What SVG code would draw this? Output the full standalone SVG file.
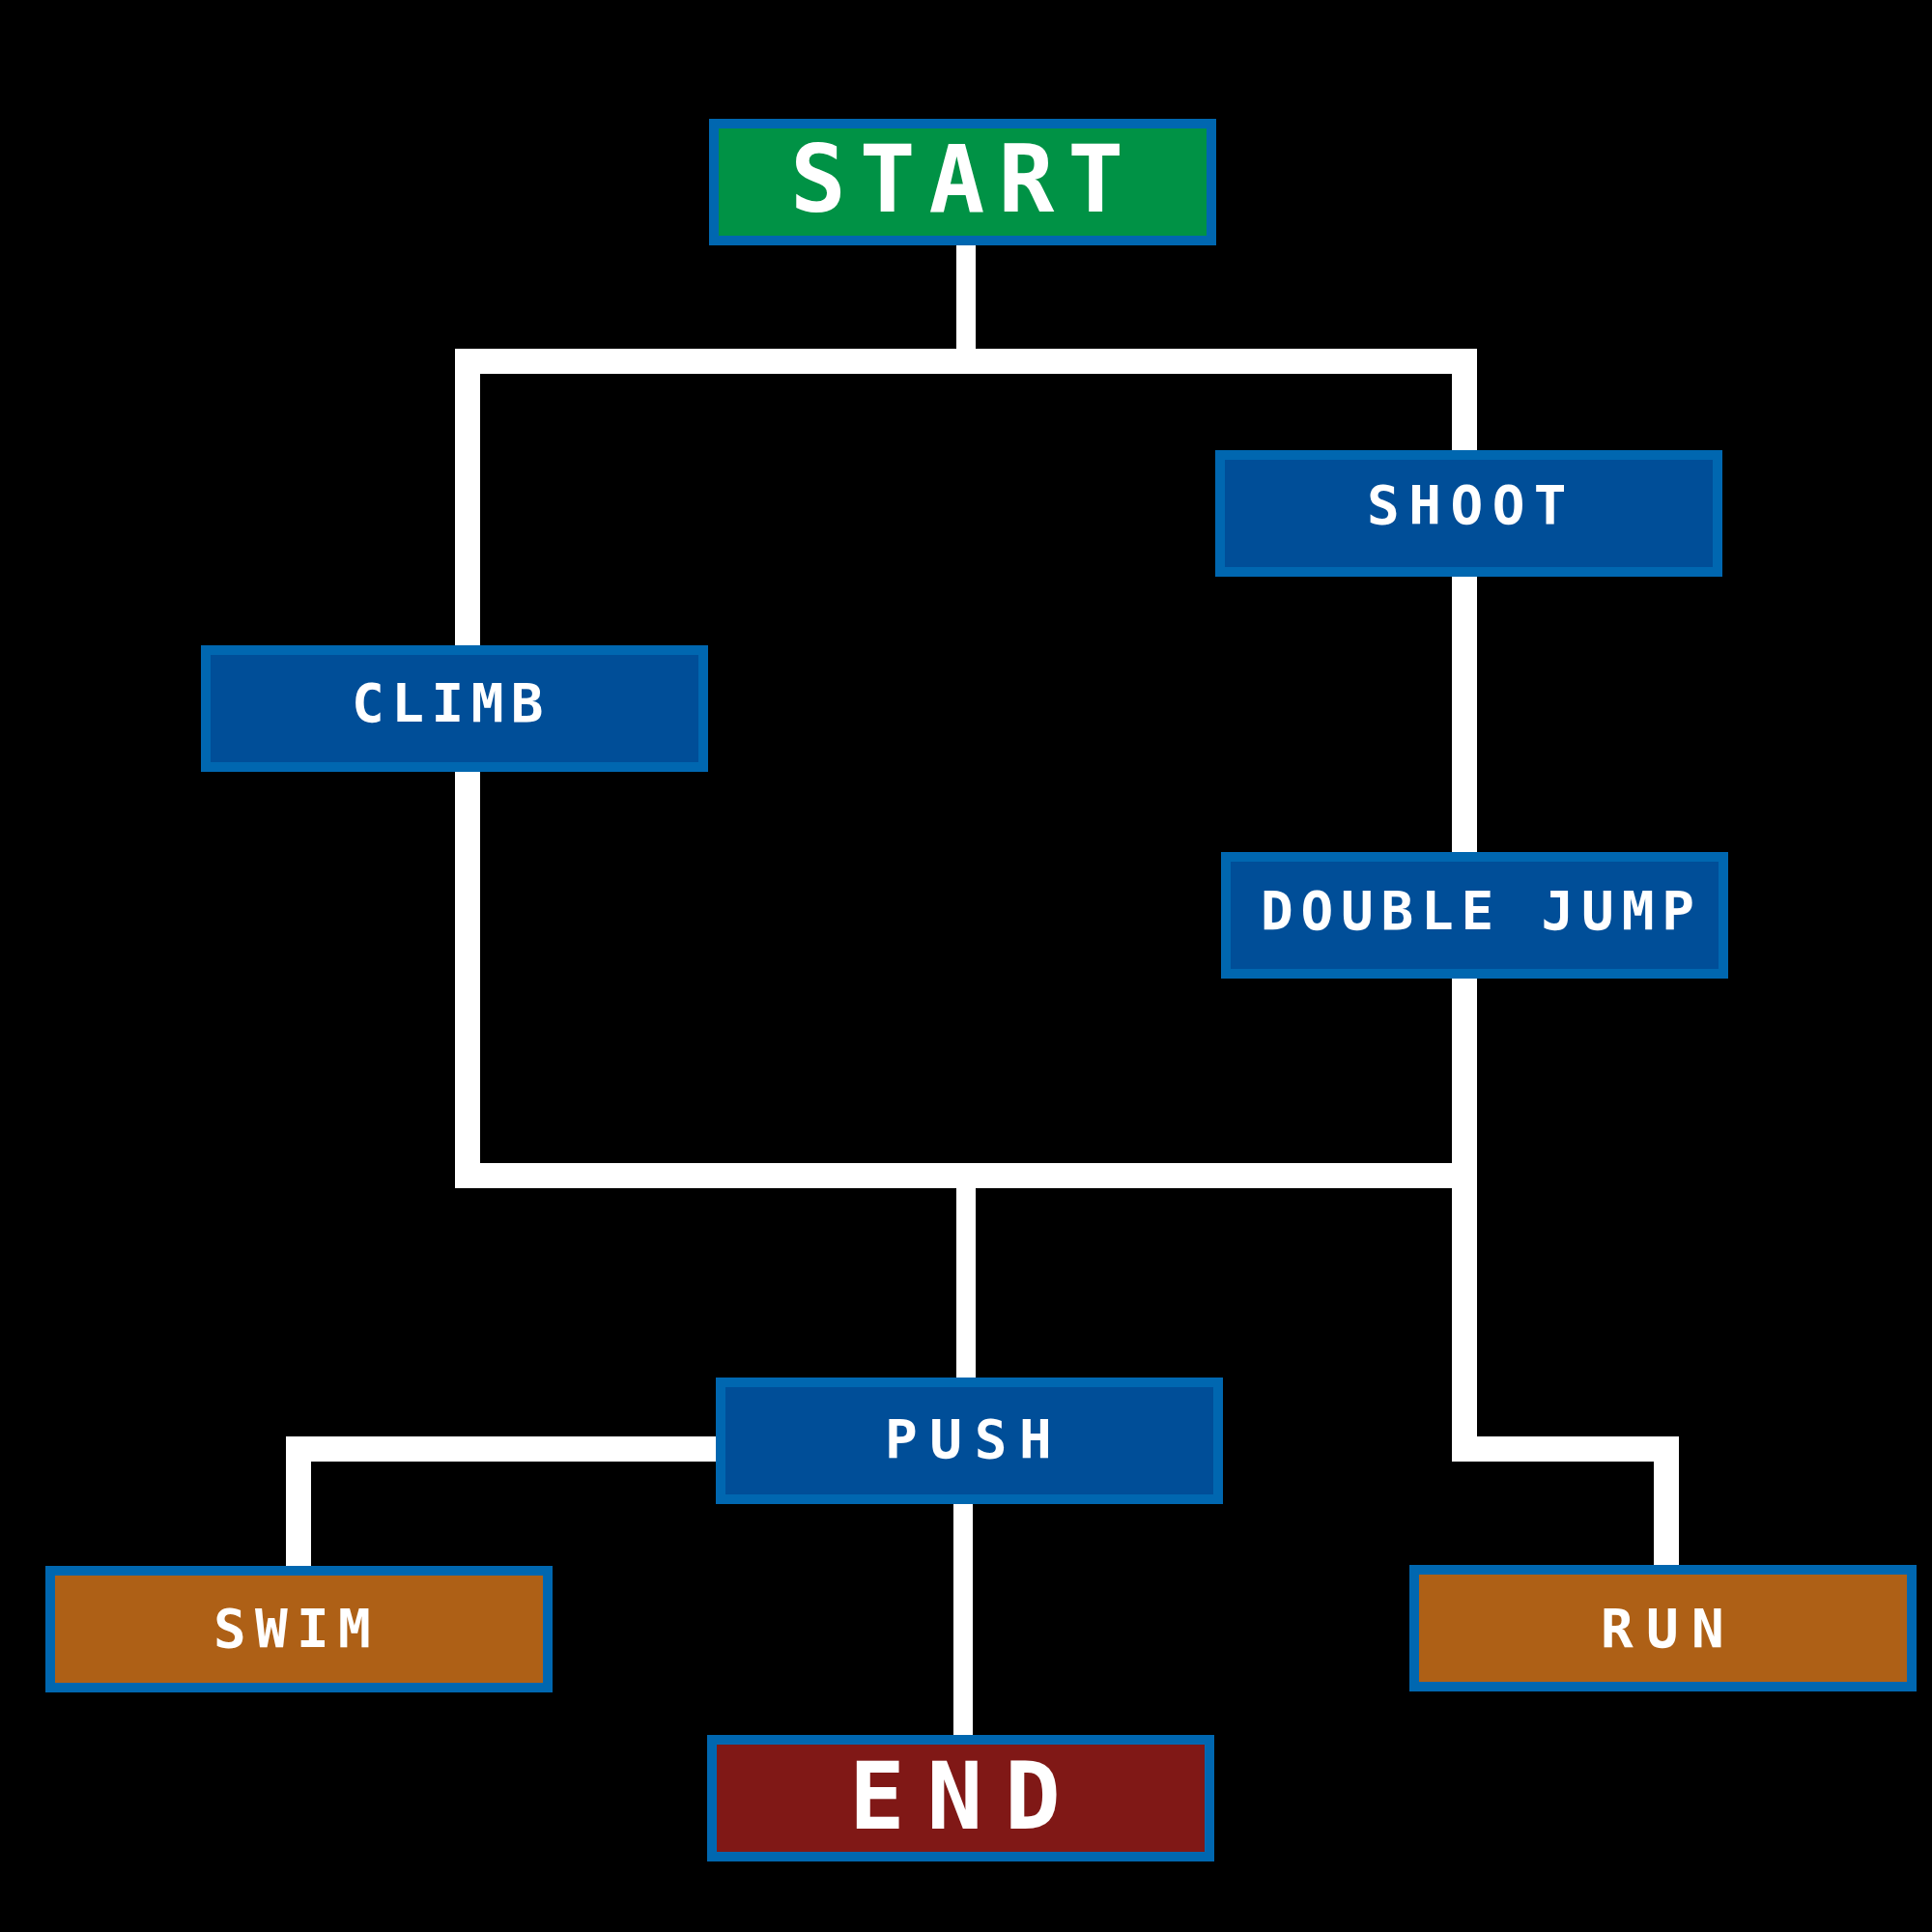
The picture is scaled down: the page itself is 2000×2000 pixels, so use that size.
<svg xmlns="http://www.w3.org/2000/svg" width="2000" height="2000" viewBox="0 0 2000 2000">
<style>
.box{stroke:#0067B0;stroke-width:10}
.blue{fill:#004E98}
.green{fill:#009245}
.brown{fill:#AE6016}
.red{fill:#801816}
.lbl{font-family:"DejaVu Sans Mono","Liberation Mono",monospace;font-weight:bold;fill:#FFFFFF}
.sm{font-size:56px}
.lg{font-size:96px}
.wire{fill:none;stroke:#FFFFFF;stroke-linejoin:miter;stroke-linecap:butt}
.w26{stroke-width:26}
.w20{stroke-width:20}
</style>
<rect x="0" y="0" width="2000" height="2000" fill="#000000"/>
<g id="connectors">
<path class="wire w20" d="M1000,253 V374"/>
<path class="wire w26" d="M484,668 V374 H1516 V466"/>
<path class="wire w26" d="M1516,597 V882"/>
<path class="wire w26" d="M484,799 V1217 H1516"/>
<path class="wire w26" d="M1516,1013 V1500 H1725 V1620"/>
<path class="wire w20" d="M1000,1230 V1426"/>
<path class="wire w26" d="M741,1500 H309 V1621"/>
<path class="wire w20" d="M997,1557 V1796"/>
</g>
<g id="start">
<rect class="box green" x="739" y="128" width="515" height="121"/>
<text class="lbl lg" x="818" y="219" letter-spacing="14">START</text>
</g>
<g id="shoot">
<rect class="box blue" x="1263" y="471" width="515" height="121"/>
<text class="lbl sm" x="1415" y="542" letter-spacing="9.5">SHOOT</text>
</g>
<g id="climb">
<rect class="box blue" x="213" y="673" width="515" height="121"/>
<text class="lbl sm" x="364" y="747" letter-spacing="7.5">CLIMB</text>
</g>
<g id="double-jump">
<rect class="box blue" x="1269" y="887" width="515" height="121"/>
<text class="lbl sm" x="1305" y="962" letter-spacing="7.8">DOUBLE JUMP</text>
</g>
<g id="push">
<rect class="box blue" x="746" y="1431" width="515" height="121"/>
<text class="lbl sm" x="916" y="1509" letter-spacing="12.6">PUSH</text>
</g>
<g id="swim">
<rect class="box brown" x="52" y="1626" width="515" height="121"/>
<text class="lbl sm" x="221" y="1705" letter-spacing="9.3">SWIM</text>
</g>
<g id="run">
<rect class="box brown" x="1464" y="1625" width="515" height="121"/>
<text class="lbl sm" x="1657" y="1705" letter-spacing="13.3">RUN</text>
</g>
<g id="end">
<rect class="box red" x="737" y="1801" width="515" height="121"/>
<text class="lbl lg" x="879" y="1893" letter-spacing="22.7">END</text>
</g>
</svg>
